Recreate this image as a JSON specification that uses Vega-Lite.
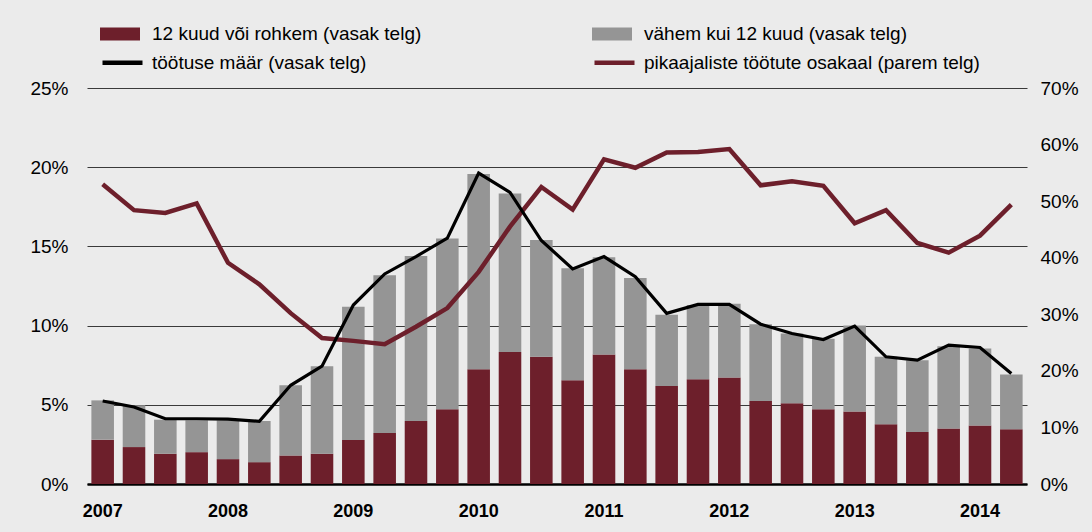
{
  "$schema": "https://vega.github.io/schema/vega-lite/v6.json",
  "autosize": {"type": "none"},
  "width": 940,
  "height": 396,
  "padding": {"left": 87, "top": 88, "right": 65, "bottom": 48},
  "background": "#ebebeb",
  "config": {
    "view": {"stroke": null},
    "font": "Liberation Sans",
    "axis": {"labelFont": "Liberation Sans", "labelColor": "#000000"},
    "legend": {"labelFont": "Liberation Sans", "labelColor": "#000000", "labelLimit": 800}
  },
  "data": {
    "values": [
      {"q": "2007Q1", "long": 2.80, "short": 2.48, "rate": 5.24, "share": 53.0},
      {"q": "2007Q2", "long": 2.33, "short": 2.64, "rate": 4.86, "share": 48.4},
      {"q": "2007Q3", "long": 1.91, "short": 2.15, "rate": 4.12, "share": 47.9},
      {"q": "2007Q4", "long": 2.01, "short": 2.01, "rate": 4.12, "share": 49.6},
      {"q": "2008Q1", "long": 1.57, "short": 2.45, "rate": 4.10, "share": 39.1},
      {"q": "2008Q2", "long": 1.38, "short": 2.60, "rate": 3.96, "share": 35.3},
      {"q": "2008Q3", "long": 1.80, "short": 4.43, "rate": 6.23, "share": 30.2},
      {"q": "2008Q4", "long": 1.91, "short": 5.53, "rate": 7.44, "share": 25.8},
      {"q": "2009Q1", "long": 2.78, "short": 8.41, "rate": 11.30, "share": 25.3},
      {"q": "2009Q2", "long": 3.22, "short": 9.96, "rate": 13.26, "share": 24.7},
      {"q": "2009Q3", "long": 3.98, "short": 10.42, "rate": 14.36, "share": 27.8},
      {"q": "2009Q4", "long": 4.72, "short": 10.78, "rate": 15.52, "share": 31.1},
      {"q": "2010Q1", "long": 7.25, "short": 12.32, "rate": 19.63, "share": 37.5},
      {"q": "2010Q2", "long": 8.34, "short": 10.00, "rate": 18.41, "share": 45.5},
      {"q": "2010Q3", "long": 8.03, "short": 7.38, "rate": 15.37, "share": 52.5},
      {"q": "2010Q4", "long": 6.55, "short": 7.07, "rate": 13.58, "share": 48.5},
      {"q": "2011Q1", "long": 8.18, "short": 6.14, "rate": 14.36, "share": 57.4},
      {"q": "2011Q2", "long": 7.25, "short": 5.76, "rate": 13.09, "share": 55.9},
      {"q": "2011Q3", "long": 6.19, "short": 4.50, "rate": 10.77, "share": 58.6},
      {"q": "2011Q4", "long": 6.61, "short": 4.69, "rate": 11.34, "share": 58.7},
      {"q": "2012Q1", "long": 6.72, "short": 4.66, "rate": 11.34, "share": 59.2},
      {"q": "2012Q2", "long": 5.24, "short": 4.85, "rate": 10.09, "share": 52.8},
      {"q": "2012Q3", "long": 5.09, "short": 4.41, "rate": 9.50, "share": 53.5},
      {"q": "2012Q4", "long": 4.72, "short": 4.45, "rate": 9.12, "share": 52.7},
      {"q": "2013Q1", "long": 4.57, "short": 5.43, "rate": 9.97, "share": 46.1},
      {"q": "2013Q2", "long": 3.77, "short": 4.26, "rate": 8.03, "share": 48.4},
      {"q": "2013Q3", "long": 3.28, "short": 4.54, "rate": 7.82, "share": 42.6},
      {"q": "2013Q4", "long": 3.51, "short": 5.19, "rate": 8.77, "share": 40.9},
      {"q": "2014Q1", "long": 3.70, "short": 4.85, "rate": 8.62, "share": 43.9},
      {"q": "2014Q2", "long": 3.45, "short": 3.46, "rate": 6.97, "share": 49.4}
    ]
  },
  "encoding": {
    "x": {
      "field": "q",
      "type": "ordinal",
      "sort": null,
      "scale": {"paddingInner": 0.28, "paddingOuter": 0.14},
      "axis": {
        "title": null,
        "values": ["2007Q1", "2008Q1", "2009Q1", "2010Q1", "2011Q1", "2012Q1", "2013Q1", "2014Q1"],
        "labelExpr": "slice(datum.value, 0, 4)",
        "labelAngle": 0,
        "labelFontSize": 18,
        "labelFontWeight": "bold",
        "labelPadding": 18,
        "ticks": false,
        "domain": true,
        "domainColor": "#000000",
        "domainWidth": 2.5,
        "grid": false
      }
    }
  },
  "layer": [
    {
      "transform": [{"fold": ["long", "short"], "as": ["key", "value"]}],
      "mark": {"type": "bar"},
      "encoding": {
        "y": {
          "field": "value",
          "type": "quantitative",
          "stack": "zero",
          "scale": {"domain": [0, 25], "nice": false},
          "axis": {
            "title": null,
            "values": [0, 5, 10, 15, 20, 25],
            "labelExpr": "datum.value + '%'",
            "labelFontSize": 19,
            "labelPadding": 19,
            "ticks": false,
            "domain": false,
            "grid": true,
            "gridColor": "#3a3a3a",
            "gridWidth": 1.2
          }
        },
        "fill": {
          "field": "key",
          "type": "nominal",
          "scale": {"domain": ["long", "short"], "range": ["#6d1f2b", "#959595"]},
          "legend": {
            "title": null,
            "orient": "none",
            "legendX": 13,
            "legendY": -74,
            "direction": "horizontal",
            "columns": 2,
            "columnPadding": 170,
            "labelExpr": "datum.value == 'long' ? '12 kuud või rohkem (vasak telg)' : 'vähem kui 12 kuud (vasak telg)'",
            "labelFontSize": 19,
            "labelOffset": 12,
            "symbolType": "M-1,-0.33H1V0.33H-1Z",
            "symbolSize": 1600,
            "symbolStrokeWidth": 0
          }
        },
        "order": {"field": "key", "sort": "ascending"}
      }
    },
    {
      "mark": {"type": "line", "strokeWidth": 4.5},
      "encoding": {
        "y": {
          "field": "share",
          "type": "quantitative",
          "scale": {"domain": [0, 70], "nice": false},
          "axis": {
            "title": null,
            "orient": "right",
            "values": [0, 10, 20, 30, 40, 50, 60, 70],
            "labelExpr": "datum.value + '%'",
            "labelFontSize": 19,
            "labelPadding": 13,
            "ticks": false,
            "domain": false,
            "grid": false
          }
        },
        "stroke": {
          "datum": "pikaajaliste töötute osakaal (parem telg)",
          "scale": {
            "domain": ["töötuse määr (vasak telg)", "pikaajaliste töötute osakaal (parem telg)"],
            "range": ["#000000", "#6d1f2b"]
          },
          "legend": {
            "title": null,
            "orient": "none",
            "legendX": 13,
            "legendY": -48,
            "direction": "horizontal",
            "columns": 2,
            "columnPadding": 218,
            "labelFontSize": 19,
            "labelOffset": 7,
            "symbolType": "stroke",
            "symbolSize": 1600,
            "symbolStrokeWidth": 4.5
          }
        }
      }
    },
    {
      "mark": {"type": "line", "strokeWidth": 3.2},
      "encoding": {
        "y": {
          "field": "rate",
          "type": "quantitative",
          "scale": {"domain": [0, 25], "nice": false},
          "axis": null
        },
        "stroke": {"datum": "töötuse määr (vasak telg)"}
      }
    }
  ],
  "resolve": {"scale": {"y": "independent"}}
}
